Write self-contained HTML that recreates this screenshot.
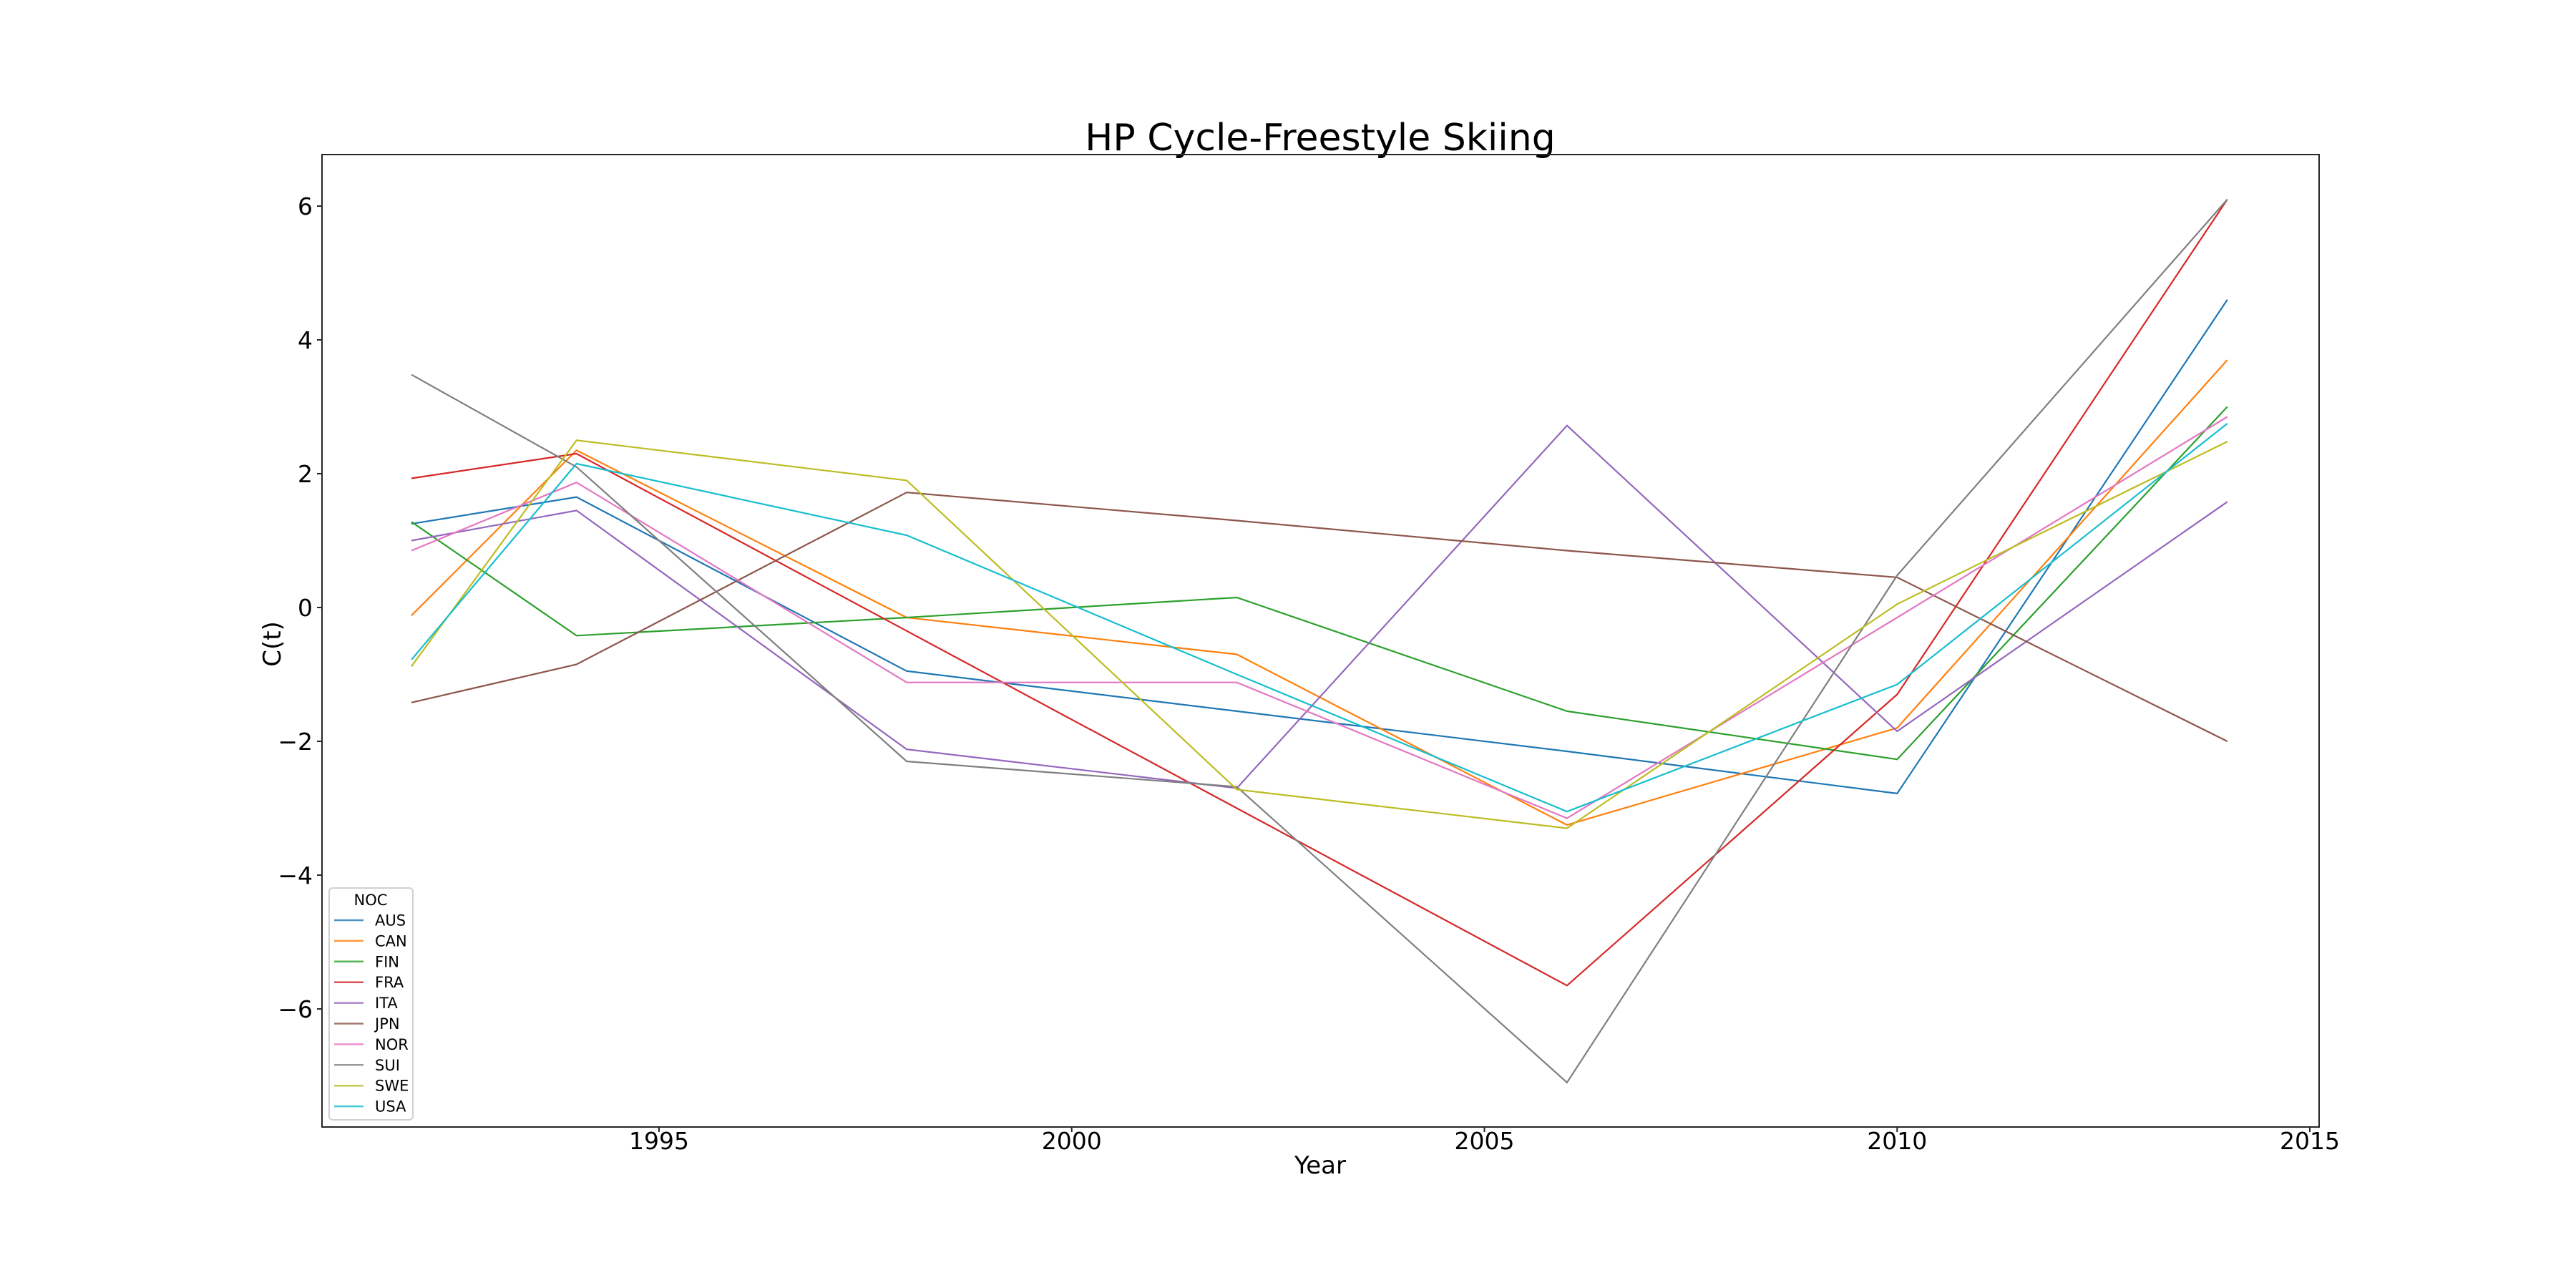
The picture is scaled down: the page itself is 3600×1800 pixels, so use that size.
<!DOCTYPE html>
<html><head><meta charset="utf-8"><style>
html,body{margin:0;padding:0;background:#fff}
svg{display:block;font-family:"DejaVu Sans","Liberation Sans",sans-serif}
</style></head><body>
<svg id="chart" width="3600" height="1800" viewBox="0 0 3600 1800">
<text x="1845" y="210" font-size="52" text-anchor="middle">HP Cycle-Freestyle Skiing</text>
<g id="plot"></g>
<rect x="450" y="216" width="2791" height="1359" fill="none" stroke="#262626" stroke-width="2"/>
<text x="1845" y="1640" font-size="34" text-anchor="middle">Year</text>
<text x="0" y="0" font-size="34" text-anchor="middle" transform="translate(392,900) rotate(-90)">C(t)</text>
<g id="legend"></g>
</svg>
<script>
const years = [1992, 1994, 1998, 2002, 2006, 2010, 2014];
const seriesNames = ["AUS","CAN","FIN","FRA","ITA","JPN","NOR","SUI","SWE","USA"];
const colors = ["#1f77b4","#ff7f0e","#2ca02c","#d62728","#9467bd","#8c564b","#e377c2","#7f7f7f","#bcbd22","#17becf"];
const AUS = [1.25, 1.65, -0.95, -1.55, -2.15, -2.78, 4.6];
const CAN = [-0.12, 2.35, -0.15, -0.7, -3.25, -1.8, 3.7];
const FIN = [1.28, -0.42, -0.15, 0.15, -1.55, -2.27, 3.0];
const FRA = [1.93, 2.3, -0.35, -3.0, -5.65, -1.3, 6.1];
const ITA = [1.0, 1.45, -2.12, -2.7, 2.72, -1.85, 1.58];
const JPN = [-1.42, -0.85, 1.72, 1.3, 0.85, 0.45, -2.0];
const NOR = [0.85, 1.87, -1.12, -1.12, -3.15, -0.15, 2.85];
const SUI = [3.48, 2.1, -2.3, -2.68, -7.1, 0.48, 6.1];
const SWE = [-0.88, 2.5, 1.9, -2.72, -3.3, 0.05, 2.48];
const USA = [-0.78, 2.15, 1.08, -1.0, -3.05, -1.15, 2.75];
const seriesValues = [AUS, CAN, FIN, FRA, ITA, JPN, NOR, SUI, SWE, USA];
const xTicks = [1995, 2000, 2005, 2010, 2015];
const yTicks = [-6, -4, -2, 0, 2, 4, 6];

const NS = "http://www.w3.org/2000/svg";
function xs(v){ return 3228 + (v - 2015) * 115.35; }
function ys(v){ return 849 - v * 93.5; }
const plot = document.getElementById('plot');
function mk(tag, attrs, parent){
  const e = document.createElementNS(NS, tag);
  for (const k in attrs) e.setAttribute(k, attrs[k]);
  parent.appendChild(e); return e;
}
xTicks.forEach(t => {
  const g = mk('g', {}, plot);
  
  
  mk('line', {x1: xs(t), x2: xs(t), y1: 1575, y2: 1582, stroke: '#262626', 'stroke-width': 2}, g);
  const tx = mk('text', {x: xs(t), y: 1606, 'font-size': 33, 'text-anchor': 'middle'}, g);
  tx.textContent = t;
});
yTicks.forEach(t => {
  const g = mk('g', {}, plot);
  
  
  mk('line', {x1: 443, x2: 450, y1: ys(t), y2: ys(t), stroke: '#262626', 'stroke-width': 2}, g);
  const tx = mk('text', {x: 437, y: ys(t) + 12, 'font-size': 33, 'text-anchor': 'end'}, g);
  tx.textContent = t < 0 ? '\u2212' + Math.abs(t) : String(t);
});
seriesValues.forEach((vals, i) => {
  const pts = vals.map((v, j) => xs(years[j]).toFixed(1) + ',' + ys(v).toFixed(1)).join(' ');
  const pl = mk('polyline', {points: pts, fill: 'none', stroke: colors[i], 'stroke-width': 2.2}, plot);
  
  
});
const lg = document.getElementById('legend');
const box = mk('rect', {x: 460, y: 1241, width: 117, height: 324, rx: 5, fill: '#fff', 'fill-opacity': 0.8, stroke: '#d0d0d0', 'stroke-width': 2}, lg);


const lt = mk('text', {x: 518, y: 1265, 'font-size': 21, 'text-anchor': 'middle'}, lg);


lt.textContent = 'NOC';
seriesNames.forEach((n, i) => {
  const y = 1286 + i * 28.9;
  const g = mk('g', {}, lg);
  
  
  mk('line', {x1: 467, x2: 508, y1: y, y2: y, stroke: colors[i], 'stroke-width': 2.5, 'stroke-opacity': 0.8}, g);
  const t = mk('text', {x: 524, y: y + 7.5, 'font-size': 21}, g);
  t.textContent = n;
});
</script>
</body></html>
